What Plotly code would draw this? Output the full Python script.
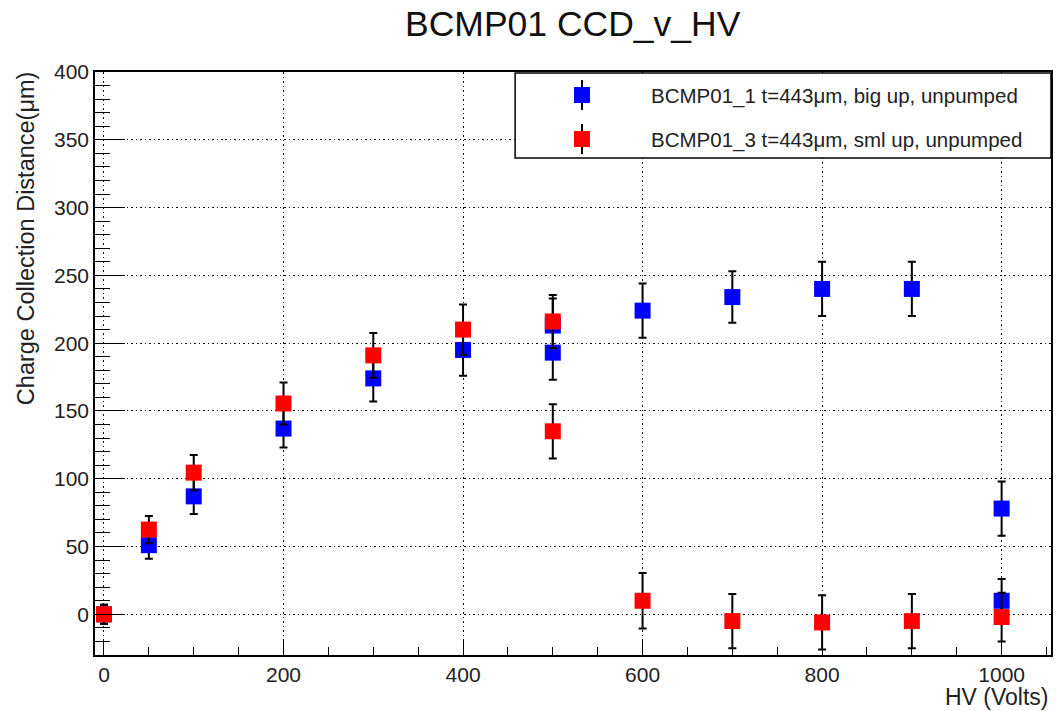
import plotly.graph_objects as go

# BCMP01_1 (blue) and BCMP01_3 (red): HV in volts, CCD in um, error in um
hv_1 = [0, 50, 100, 200, 300, 400, 500, 500, 600, 700, 800, 900, 1000, 1000]
ccd_1 = [0, 51, 87, 137, 174, 195, 213, 193, 224, 234, 240, 240, 78, 10]
err_1 = [7, 10, 13, 14, 17, 19, 20, 20, 20, 19, 20, 20, 20, 16]

hv_3 = [0, 50, 100, 200, 300, 400, 500, 500, 600, 700, 800, 900, 1000]
ccd_3 = [0, 62.5, 104.5, 155.5, 191, 210, 216, 135, 10, -5, -6, -5, -2]
err_3 = [7, 10, 13, 15.5, 16.5, 18.5, 19.5, 20, 20.5, 20, 20, 20, 18]

names = ["BCMP01_1 t=443μm, big up, unpumped",
         "BCMP01_3 t=443μm, sml up, unpumped"]
colors = ["#0000ff", "#ff0000"]

W, H = 1056, 711
L, R, T, B = 95, 1053, 72, 655
FONT = "Liberation Sans, Arial, sans-serif"

def px(x):
    return (x - L) / (R - L)

def py(y):
    return (B - y) / (B - T)

fig = go.Figure()
for x, y, e, c in [(hv_1, ccd_1, err_1, colors[0]), (hv_3, ccd_3, err_3, colors[1])]:
    fig.add_trace(go.Scatter(
        x=x, y=y, mode="markers",
        marker=dict(symbol="square", size=16, color=c, line=dict(width=0)),
        error_y=dict(type="data", array=e, color="black", thickness=2, width=4),
        showlegend=False))

shapes = []
annotations = []

# legend box
shapes.append(dict(type="rect", xref="paper", yref="paper",
                   x0=px(516), x1=px(1053), y0=py(158), y1=py(73),
                   line=dict(color="black", width=1.5), fillcolor="white", layer="above"))
for i, (n, c) in enumerate(zip(names, colors)):
    yc = 95 + i * 44
    shapes.append(dict(type="line", xref="paper", yref="paper",
                       x0=px(583), x1=px(583), y0=py(yc + 15), y1=py(yc - 15),
                       line=dict(color="black", width=2), layer="above"))
    shapes.append(dict(type="rect", xref="paper", yref="paper",
                       x0=px(575), x1=px(591), y0=py(yc + 8), y1=py(yc - 8),
                       line=dict(width=0), fillcolor=c, layer="above"))
    annotations.append(dict(text=n, xref="paper", yref="paper", x=px(650), y=py(yc + 1),
                            xanchor="left", yanchor="middle", showarrow=False,
                            font=dict(size=20.5, color="#222")))

annotations.append(dict(text="BCMP01 CCD_v_HV", xref="paper", yref="paper",
                        x=0.5, y=py(24), xanchor="center", yanchor="middle",
                        showarrow=False, font=dict(size=35.5, color="#111")))
annotations.append(dict(text="Charge Collection Distance(μm)", xref="paper", yref="paper",
                        x=px(26), y=py(69), xanchor="center", yanchor="top", textangle=-90,
                        showarrow=False, font=dict(size=23.5, color="#222")))
annotations.append(dict(text="HV (Volts)", xref="paper", yref="paper",
                        x=1, y=py(697), xanchor="right", yanchor="middle",
                        showarrow=False, font=dict(size=23, color="#222")))

axis_common = dict(showline=True, linecolor="black", linewidth=1.5, mirror=True,
                   ticks="inside", tickcolor="black", tickwidth=1,
                   showgrid=True, gridcolor="#111", gridwidth=1, griddash="1.5px,3px",
                   zeroline=False, tickfont=dict(size=21, color="#222"))

fig.update_layout(
    width=W, height=H,
    margin=dict(l=L, r=W - R, t=T, b=H - B),
    paper_bgcolor="white", plot_bgcolor="white",
    font=dict(family=FONT, color="#222"),
    showlegend=False,
    shapes=shapes, annotations=annotations,
    xaxis=dict(range=[-10, 1055], tick0=0, dtick=200, ticklen=16,
               minor=dict(dtick=50, ticklen=8, ticks="inside", tickcolor="black", showgrid=False),
               **axis_common),
    yaxis=dict(range=[-30, 400], tick0=0, dtick=50, ticklen=30,
               minor=dict(dtick=10, ticklen=15, ticks="inside", tickcolor="black", showgrid=False),
               **axis_common),
)

fig.write_html("out.html", config={"displayModeBar": False},
               post_script="document.body.style.margin='0';")
